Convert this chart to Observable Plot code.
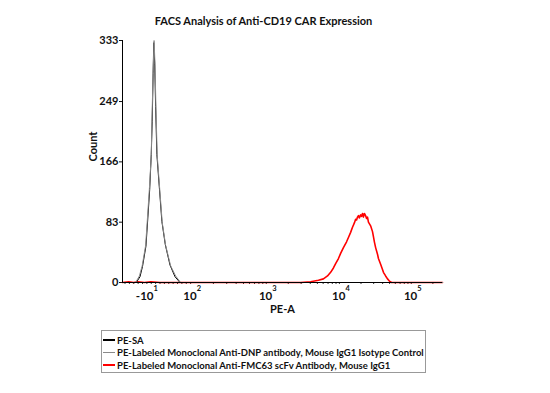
<!DOCTYPE html>
<html>
<head>
<meta charset="utf-8">
<script src="https://cdn.jsdelivr.net/npm/d3@7"></script>
<script src="https://cdn.jsdelivr.net/npm/@observablehq/plot@0.6"></script>
<style>
  html, body { margin: 0; padding: 0; background: #fff; }
  #wrap { position: relative; width: 550px; height: 393px; background: #fff; font-family: Lato, "Open Sans", sans-serif; }
  #title { position: absolute; left: 0; top: 14px; width: 527px; text-align: center; font-weight: bold; font-size: 11px; color: #111; }
  #plot { position: absolute; left: 0; top: 0; }
  #legend { position: absolute; left: 101px; top: 330px; width: 323px; height: 41px; border: 1px solid #999; box-sizing: content-box; }
  .row { position: absolute; left: 1px; height: 12px; display: flex; align-items: center; font-size: 9.5px; font-weight: bold; color: #111; white-space: nowrap; }
  .sw { width: 12px; margin-right: 2px; }
</style>
</head>
<body>
<div id="wrap">
  <div id="plot"></div>
  <div id="title">FACS Analysis of Anti-CD19 CAR Expression</div>
  <div id="legend"></div>
</div>
<script>
// Series names and colours
const seriesNames = [
  "PE-SA",
  "PE-Labeled Monoclonal Anti-DNP antibody, Mouse IgG1 Isotype Control",
  "PE-Labeled Monoclonal Anti-FMC63 scFv Antibody, Mouse IgG1"
];
const seriesColors = ["#000000", "#8a8a8a", "#ff0000"];

// Histogram traces (x in display channels 0-1024, y = count)
const blackX = [0, 44, 56, 64, 75, 80, 87, 92, 95, 98, 100, 103, 106, 110, 118, 126, 137, 152, 168, 184, 1024];
const blackY = [0, 0, 8, 22, 50, 82, 128, 176, 222, 288, 330, 302, 242, 176, 130, 84, 52, 24, 8, 0, 0];

const grayX = [0, 42, 54, 63, 74, 79, 86, 92, 94, 98, 101, 104, 107, 111, 119, 127, 138, 154, 170, 186, 1024];
const grayY = [0, 0, 9, 23, 51, 83, 129, 175, 220, 290, 333, 300, 240, 175, 129, 83, 51, 23, 9, 0, 0];

const redX = [0, 20, 35, 50, 70, 90, 120, 570, 602, 627, 643, 656, 666, 675, 682, 691, 698, 707, 717, 723, 730, 736, 742, 746, 749, 752, 755, 758, 762, 765, 768, 771, 774, 778, 781, 784, 787, 794, 800, 803, 806, 810, 816, 819, 826, 832, 835, 842, 848, 854, 861, 1024];
const redY = [0, 1, 0, 1, 0, 1, 0, 0, 1, 3, 5, 9, 14, 20, 26, 33, 40, 48, 56, 62, 69, 76, 82, 87, 86, 90, 92, 89, 93, 91, 95, 90, 95, 92, 88, 90, 83, 78, 70, 63, 56, 48, 39, 33, 25, 18, 14, 9, 5, 2, 0, 0];

// Axis ticks
const yTicks = [0, 83, 166, 249, 333];
const xTickPos = [80, 218, 460, 694, 924];
const xTickBase = ["-10", "10", "10", "10", "10"];
const xTickExp = ["1", "2", "3", "4", "5"];

const toRows = (xs, ys) => xs.map((x, i) => ({x, y: ys[i]}));
const blackData = toRows(blackX, blackY);
const grayData = toRows(grayX, grayY);
const redData = toRows(redX, redY);
const tickData = xTickPos.map((p, i) => ({p, base: xTickBase[i], exp: xTickExp[i]}));

// minor ticks between decades (axis decoration)
const minor = [];
for (let k = 1; k < xTickPos.length - 1; k++) {
  const a = xTickPos[k], b = xTickPos[k + 1];
  for (let m = 1; m <= 9; m++) minor.push(a + (b - a) * Math.log10(m));
}
for (let m = 1; m <= 9; m++) { const v = xTickPos[4] + (xTickPos[4] - xTickPos[3]) * Math.log10(m); if (v < 1024) minor.push(v); }
for (let v = 8; v < 218; v += 14) minor.push(v);

const chart = Plot.plot({
  width: 550,
  height: 393,
  marginLeft: 122,
  marginRight: 108,
  marginTop: 40,
  marginBottom: 111,
  style: { fontFamily: "Lato, 'Open Sans', sans-serif", background: "transparent", color: "#111" },
  x: { domain: [0, 1024] },
  y: { domain: [0, 333] },
  marks: [
    Plot.axisY({ ticks: yTicks, tickSize: 3, tickPadding: 1, fontSize: 11, fontWeight: "bold", label: null, tickFormat: d => String(d) }),
    Plot.text(["Count"], { frameAnchor: "left", rotate: -90, dx: -29, dy: 0, fontSize: 11, fontWeight: "bold", fill: "#111" }),
    Plot.axisX({ ticks: minor, tickSize: 2, tickFormat: () => "", label: null, stroke: "#333" }),
    Plot.text(tickData, { x: "p", frameAnchor: "bottom", text: "base", textAnchor: "end", dx: 6, dy: 17, fontSize: 11.5, fontWeight: "bold", fill: "#111" }),
    Plot.text(tickData, { x: "p", frameAnchor: "bottom", text: "exp", textAnchor: "start", dx: 6, dy: 8, fontSize: 7.5, fontWeight: "bold", fill: "#111" }),
    Plot.text(["PE-A"], { frameAnchor: "bottom", dy: 30, dx: 0, fontSize: 11, fontWeight: "bold", fill: "#111" }),
    Plot.line(redData, { x: "x", y: "y", stroke: seriesColors[2], strokeWidth: 1.6 }),
    Plot.line(blackData, { x: "x", y: "y", stroke: seriesColors[0], strokeWidth: 1 }),
    Plot.line(grayData, { x: "x", y: "y", stroke: seriesColors[1], strokeWidth: 1 }),
    Plot.ruleX([0], { stroke: "#000" }),
    Plot.ruleY([0], { stroke: "#000" })
  ]
});
document.getElementById("plot").appendChild(chart);

// Legend
const legend = document.getElementById("legend");
const swWidths = [2, 1, 2];
const swColors = ["#000000", "#8a8a8a", "#ff0000"];
seriesNames.forEach((name, i) => {
  const row = document.createElement("div");
  row.className = "row";
  row.style.top = (3 + i * 12.6) + "px";
  const sw = document.createElement("span");
  sw.className = "sw";
  sw.style.borderTop = swWidths[i] + "px solid " + swColors[i];
  row.appendChild(sw);
  const t = document.createElement("span");
  t.textContent = name;
  row.appendChild(t);
  legend.appendChild(row);
});
</script>
</body>
</html>
